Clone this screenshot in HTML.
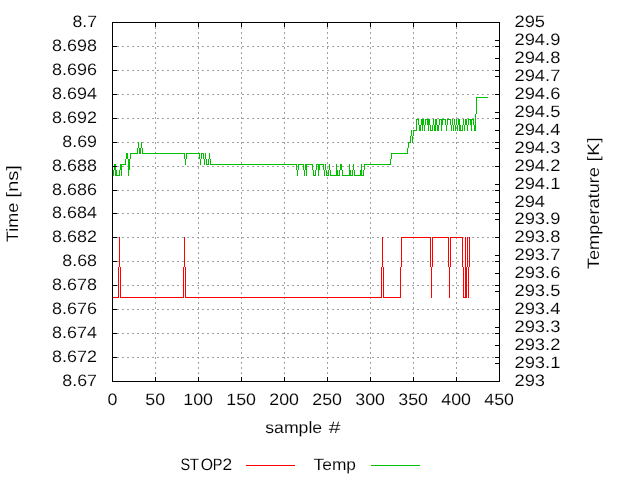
<!DOCTYPE html>
<html><head><meta charset="utf-8"><title>plot</title>
<style>html,body{margin:0;padding:0;background:#fff;overflow:hidden}svg{display:block}text{font-family:"Liberation Sans",sans-serif;font-size:16.5px;fill:#000;stroke:#fff;stroke-width:0.1px;text-rendering:geometricPrecision}</style></head><body>
<svg width="640" height="480" viewBox="0 0 640 480">
<rect x="0" y="0" width="640" height="480" fill="#fff"/>
<g shape-rendering="crispEdges" stroke="#a0a0a0" stroke-width="1" stroke-dasharray="2 3" fill="none">
<line x1="112" y1="357.5" x2="500" y2="357.5"/>
<line x1="112" y1="333.5" x2="500" y2="333.5"/>
<line x1="112" y1="309.5" x2="500" y2="309.5"/>
<line x1="112" y1="285.5" x2="500" y2="285.5"/>
<line x1="112" y1="261.5" x2="500" y2="261.5"/>
<line x1="112" y1="237.5" x2="500" y2="237.5"/>
<line x1="112" y1="213.5" x2="500" y2="213.5"/>
<line x1="112" y1="190.5" x2="500" y2="190.5"/>
<line x1="112" y1="166.5" x2="500" y2="166.5"/>
<line x1="112" y1="142.5" x2="500" y2="142.5"/>
<line x1="112" y1="118.5" x2="500" y2="118.5"/>
<line x1="112" y1="94.5" x2="500" y2="94.5"/>
<line x1="112" y1="70.5" x2="500" y2="70.5"/>
<line x1="112" y1="46.5" x2="500" y2="46.5"/>
<line x1="155.5" y1="22" x2="155.5" y2="382"/>
<line x1="198.5" y1="22" x2="198.5" y2="382"/>
<line x1="241.5" y1="22" x2="241.5" y2="382"/>
<line x1="284.5" y1="22" x2="284.5" y2="382"/>
<line x1="327.5" y1="22" x2="327.5" y2="382"/>
<line x1="370.5" y1="22" x2="370.5" y2="382"/>
<line x1="413.5" y1="22" x2="413.5" y2="382"/>
<line x1="456.5" y1="22" x2="456.5" y2="382"/>
</g>
<g shape-rendering="crispEdges">
<path fill="#ff0000" d="M112 297h6v1h-6zM118 267h1v31h-1zM119 237h1v30h-1zM120 267h1v31h-1zM121 297h62v1h-62zM183 267h1v31h-1zM184 237h1v30h-1zM185 267h1v31h-1zM186 297h195v1h-195zM381 267h1v31h-1zM382 237h1v30h-1zM383 267h1v31h-1zM384 297h16v1h-16zM400 267h1v31h-1zM401 237h1v30h-1zM402 237h28v1h-28zM430 237h1v30h-1zM431 267h1v31h-1zM432 237h1v30h-1zM433 237h15v1h-15zM448 237h1v30h-1zM449 267h1v31h-1zM450 237h1v30h-1zM451 237h11v1h-11zM462 237h1v30h-1zM463 267h1v31h-1zM464 297h1v1h-1zM465 237h1v61h-1zM466 267h1v31h-1zM467 237h1v30h-1zM468 267h1v31h-1zM469 237h1v30h-1z"/>
<path fill="#00c000" d="M112 170h1v6h-1zM113 170h1v6h-1zM114 164h1v6h-1zM115 164h1v12h-1zM116 170h1v6h-1zM117 175h2v1h-2zM119 170h1v6h-1zM120 164h1v6h-1zM121 164h1v12h-1zM122 164h3v1h-3zM125 159h1v6h-1zM126 153h1v6h-1zM127 153h1v6h-1zM128 159h1v17h-1zM129 159h1v11h-1zM130 153h1v6h-1zM131 153h6v1h-6zM137 148h1v6h-1zM138 142h1v6h-1zM139 148h1v6h-1zM140 148h1v6h-1zM141 142h1v6h-1zM142 148h1v6h-1zM143 153h41v1h-41zM184 153h1v6h-1zM185 159h1v6h-1zM186 153h1v6h-1zM187 153h12v1h-12zM199 153h1v6h-1zM200 159h1v6h-1zM201 153h1v6h-1zM202 153h1v1h-1zM203 153h1v6h-1zM204 159h1v6h-1zM205 153h1v6h-1zM206 159h1v6h-1zM207 164h1v1h-1zM208 159h1v6h-1zM209 153h1v6h-1zM210 159h1v6h-1zM211 164h85v1h-85zM296 164h1v6h-1zM297 170h1v6h-1zM298 164h1v6h-1zM299 164h4v1h-4zM303 164h1v6h-1zM304 170h1v6h-1zM305 164h1v6h-1zM306 164h1v12h-1zM307 164h5v1h-5zM312 164h1v6h-1zM313 170h1v6h-1zM314 175h1v1h-1zM315 170h1v6h-1zM316 164h1v6h-1zM317 164h1v1h-1zM318 164h1v12h-1zM319 164h1v6h-1zM320 164h3v1h-3zM323 164h1v6h-1zM324 170h1v6h-1zM325 164h1v6h-1zM326 170h1v6h-1zM327 175h1v1h-1zM328 170h1v6h-1zM329 164h1v6h-1zM330 170h1v6h-1zM331 175h5v1h-5zM336 164h1v12h-1zM337 170h1v6h-1zM338 175h1v1h-1zM339 170h1v6h-1zM340 164h1v6h-1zM341 164h1v6h-1zM342 170h1v6h-1zM343 175h6v1h-6zM349 164h1v12h-1zM350 170h1v6h-1zM351 175h1v1h-1zM352 170h1v6h-1zM353 164h1v6h-1zM354 170h1v6h-1zM355 175h5v1h-5zM360 170h1v6h-1zM361 164h1v12h-1zM362 175h1v1h-1zM363 170h1v6h-1zM364 164h1v6h-1zM365 164h25v1h-25zM390 159h1v6h-1zM391 153h1v6h-1zM392 153h15v1h-15zM407 148h1v6h-1zM408 142h1v6h-1zM409 142h1v1h-1zM410 136h1v7h-1zM411 130h1v6h-1zM412 136h1v7h-1zM413 130h1v6h-1zM414 130h2v1h-2zM416 119h1v12h-1zM417 119h1v1h-1zM418 119h1v6h-1zM419 125h1v6h-1zM420 125h1v6h-1zM421 119h1v6h-1zM422 119h1v12h-1zM423 119h1v6h-1zM424 125h1v6h-1zM425 119h1v6h-1zM426 119h1v1h-1zM427 119h1v6h-1zM428 119h1v12h-1zM429 119h1v6h-1zM430 125h1v6h-1zM431 130h1v1h-1zM432 125h1v6h-1zM433 119h1v6h-1zM434 125h1v6h-1zM435 119h1v12h-1zM436 119h1v6h-1zM437 125h1v6h-1zM438 125h1v6h-1zM439 119h1v6h-1zM440 119h1v1h-1zM441 119h1v12h-1zM442 119h1v6h-1zM443 119h2v1h-2zM445 119h1v6h-1zM446 125h1v6h-1zM447 119h1v6h-1zM448 119h2v1h-2zM450 119h1v6h-1zM451 125h1v6h-1zM452 119h1v6h-1zM453 125h1v6h-1zM454 119h1v6h-1zM455 125h1v6h-1zM456 119h1v6h-1zM457 125h1v6h-1zM458 119h1v6h-1zM459 119h1v12h-1zM460 125h1v6h-1zM461 130h1v1h-1zM462 125h1v6h-1zM463 119h1v6h-1zM464 125h1v6h-1zM465 119h1v6h-1zM466 119h1v6h-1zM467 125h1v6h-1zM468 119h1v6h-1zM469 119h1v1h-1zM470 119h1v6h-1zM471 119h1v12h-1zM472 119h1v1h-1zM473 119h1v6h-1zM474 125h1v6h-1zM475 114h1v17h-1zM476 97h1v17h-1zM477 97h11v1h-11z"/>
<rect x="246" y="465" width="49" height="1" fill="#ff0000"/>
<rect x="371" y="465" width="49" height="1" fill="#00c000"/>
</g>
<path shape-rendering="crispEdges" fill="#000" d="M112 381h5v1h-5zM495 381h5v1h-5zM112 357h5v1h-5zM495 357h5v1h-5zM112 333h5v1h-5zM495 333h5v1h-5zM112 309h5v1h-5zM495 309h5v1h-5zM112 285h5v1h-5zM495 285h5v1h-5zM112 261h5v1h-5zM495 261h5v1h-5zM112 237h5v1h-5zM495 237h5v1h-5zM112 213h5v1h-5zM495 213h5v1h-5zM112 190h5v1h-5zM495 190h5v1h-5zM112 166h5v1h-5zM495 166h5v1h-5zM112 142h5v1h-5zM495 142h5v1h-5zM112 118h5v1h-5zM495 118h5v1h-5zM112 94h5v1h-5zM495 94h5v1h-5zM112 70h5v1h-5zM495 70h5v1h-5zM112 46h5v1h-5zM495 46h5v1h-5zM112 22h5v1h-5zM495 22h5v1h-5zM495 381h5v1h-5zM495 363h5v1h-5zM495 345h5v1h-5zM495 327h5v1h-5zM495 309h5v1h-5zM495 291h5v1h-5zM495 273h5v1h-5zM495 255h5v1h-5zM495 237h5v1h-5zM495 219h5v1h-5zM495 202h5v1h-5zM495 184h5v1h-5zM495 166h5v1h-5zM495 148h5v1h-5zM495 130h5v1h-5zM495 112h5v1h-5zM495 94h5v1h-5zM495 76h5v1h-5zM495 58h5v1h-5zM495 40h5v1h-5zM495 22h5v1h-5zM112 377h1v5h-1zM112 22h1v5h-1zM155 377h1v5h-1zM155 22h1v5h-1zM198 377h1v5h-1zM198 22h1v5h-1zM241 377h1v5h-1zM241 22h1v5h-1zM284 377h1v5h-1zM284 22h1v5h-1zM327 377h1v5h-1zM327 22h1v5h-1zM370 377h1v5h-1zM370 22h1v5h-1zM413 377h1v5h-1zM413 22h1v5h-1zM456 377h1v5h-1zM456 22h1v5h-1zM499 377h1v5h-1zM499 22h1v5h-1zM112 22h388v1h-388zM112 381h388v1h-388zM112 22h1v360h-1zM499 22h1v360h-1z"/>
<g opacity="0.999">
<text transform="translate(62.27 385.8) scale(1.0813 1.0)">8.67</text>
<text transform="translate(52.09 361.8) scale(1.0876 1.0)">8.672</text>
<text transform="translate(52.09 337.8) scale(1.0876 1.0)">8.674</text>
<text transform="translate(52.09 313.8) scale(1.0876 1.0)">8.676</text>
<text transform="translate(52.09 289.8) scale(1.0876 1.0)">8.678</text>
<text transform="translate(62.27 265.8) scale(1.0813 1.0)">8.68</text>
<text transform="translate(52.09 241.8) scale(1.0876 1.0)">8.682</text>
<text transform="translate(52.09 217.8) scale(1.0876 1.0)">8.684</text>
<text transform="translate(52.09 194.8) scale(1.0876 1.0)">8.686</text>
<text transform="translate(52.09 170.8) scale(1.0876 1.0)">8.688</text>
<text transform="translate(62.27 146.8) scale(1.0813 1.0)">8.69</text>
<text transform="translate(52.09 122.8) scale(1.0876 1.0)">8.692</text>
<text transform="translate(52.09 98.8) scale(1.0876 1.0)">8.694</text>
<text transform="translate(52.09 74.8) scale(1.0876 1.0)">8.696</text>
<text transform="translate(52.09 50.8) scale(1.0876 1.0)">8.698</text>
<text transform="translate(72.45 26.8) scale(1.0701 1.0)">8.7</text>
<text transform="translate(514.5 385.8) scale(1.1094 1.0)">293</text>
<text transform="translate(514.5 367.8) scale(1.1094 1.0)">293.1</text>
<text transform="translate(514.5 349.8) scale(1.1094 1.0)">293.2</text>
<text transform="translate(514.5 331.8) scale(1.1094 1.0)">293.3</text>
<text transform="translate(514.5 313.8) scale(1.1094 1.0)">293.4</text>
<text transform="translate(514.5 295.8) scale(1.1094 1.0)">293.5</text>
<text transform="translate(514.5 277.8) scale(1.1094 1.0)">293.6</text>
<text transform="translate(514.5 259.8) scale(1.1094 1.0)">293.7</text>
<text transform="translate(514.5 241.8) scale(1.1094 1.0)">293.8</text>
<text transform="translate(514.5 223.8) scale(1.1094 1.0)">293.9</text>
<text transform="translate(514.5 206.8) scale(1.1094 1.0)">294</text>
<text transform="translate(514.5 188.8) scale(1.1094 1.0)">294.1</text>
<text transform="translate(514.5 170.8) scale(1.1094 1.0)">294.2</text>
<text transform="translate(514.5 152.8) scale(1.1094 1.0)">294.3</text>
<text transform="translate(514.5 134.8) scale(1.1094 1.0)">294.4</text>
<text transform="translate(514.5 116.8) scale(1.1094 1.0)">294.5</text>
<text transform="translate(514.5 98.8) scale(1.1094 1.0)">294.6</text>
<text transform="translate(514.5 80.8) scale(1.1094 1.0)">294.7</text>
<text transform="translate(514.5 62.8) scale(1.1094 1.0)">294.8</text>
<text transform="translate(514.5 44.8) scale(1.1094 1.0)">294.9</text>
<text transform="translate(514.5 26.8) scale(1.1094 1.0)">295</text>
<text transform="translate(107.41 404.8) scale(1.0803 1.0)">0</text>
<text transform="translate(145.32 404.8) scale(1.0803 1.0)">50</text>
<text transform="translate(183.23 404.8) scale(1.0803 1.0)">100</text>
<text transform="translate(226.23 404.8) scale(1.0803 1.0)">150</text>
<text transform="translate(269.23 404.8) scale(1.0803 1.0)">200</text>
<text transform="translate(312.23 404.8) scale(1.0803 1.0)">250</text>
<text transform="translate(355.23 404.8) scale(1.0803 1.0)">300</text>
<text transform="translate(398.23 404.8) scale(1.0803 1.0)">350</text>
<text transform="translate(441.23 404.8) scale(1.0803 1.0)">400</text>
<text transform="translate(484.23 404.8) scale(1.0803 1.0)">450</text>
<text transform="translate(265.22 433.0) scale(1.0706 1.0)">sample</text>
<text transform="translate(328.69 433.0) scale(1.2781 1.0)">#</text>
<text transform="translate(180.56 470.0) scale(0.876 1.0)">S</text>
<text transform="translate(189.85 470.0) scale(0.915 1.0)">T</text>
<text transform="translate(200.7 470.0) scale(0.9621 1.0)">O</text>
<text transform="translate(212.86 470.0) scale(0.8796 1.0)">P</text>
<text transform="translate(222.57 470.0) scale(1.0509 1.0)">2</text>
<text transform="translate(313.56 470.0) scale(1.052 1.0)">Temp</text>
<text transform="translate(17.9 242.19) rotate(-90) scale(1.0956 1.0)">Time</text>
<text transform="translate(17.9 197.69) rotate(-90) scale(1.2258 1.0)">[ns]</text>
<text transform="translate(598.9 269.19) rotate(-90) scale(1.1027 1.0)">Temperature</text>
<text transform="translate(598.9 161.61) rotate(-90) scale(1.2023 1.0)">[K]</text>
</g>
</svg></body></html>
